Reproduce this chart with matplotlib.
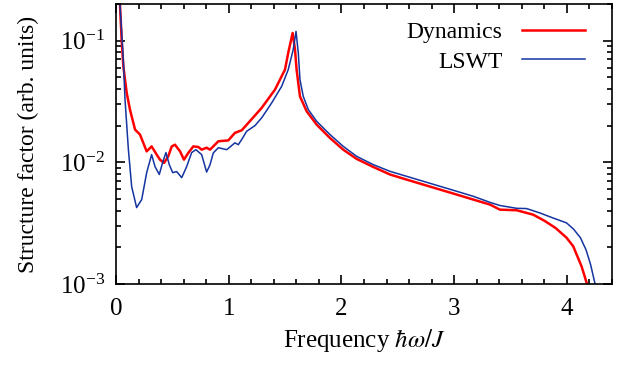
import numpy as np
import matplotlib
matplotlib.use("Agg")
import matplotlib.pyplot as plt
from matplotlib.ticker import MultipleLocator, LogLocator, NullFormatter

plt.rcParams['font.family'] = ['Liberation Serif', 'DejaVu Serif']
plt.rcParams['mathtext.fontset'] = 'stix'
plt.rcParams['font.size'] = 17

# LSWT (smooth), frequency vs log10(S)
lswt_w = [0.02, 0.035, 0.065, 0.08, 0.11, 0.139, 0.183, 0.228, 0.272, 0.316, 0.346,
          0.384, 0.414, 0.443, 0.473, 0.503, 0.538, 0.583, 0.627, 0.671, 0.709,
          0.76, 0.804, 0.834, 0.863, 0.908, 0.982, 1.011, 1.055, 1.085, 1.115,
          1.159, 1.233, 1.292, 1.381, 1.47, 1.528, 1.572, 1.597, 1.617, 1.632,
          1.661, 1.706, 1.78, 1.898, 2.016, 2.135, 2.282, 2.43, 2.578, 2.726,
          2.874, 3.022, 3.169, 3.317, 3.406, 3.554, 3.642, 3.76, 3.87, 3.997,
          4.06, 4.12, 4.17, 4.21, 4.25, 4.27]
lswt_log = [-0.4, -0.7, -1.156, -1.485, -1.896, -2.2, -2.372, -2.306, -2.085, -1.937, -2.035,
            -2.10, -2.0, -1.92, -2.02, -2.085, -2.076, -2.126, -2.035, -1.92, -1.896,
            -1.937, -2.08, -2.02, -1.923, -1.88, -1.896, -1.874, -1.84, -1.855, -1.813,
            -1.745, -1.698, -1.635, -1.512, -1.375, -1.238, -1.074, -0.924, -1.10, -1.32,
            -1.458, -1.567, -1.663, -1.772, -1.869, -1.951, -2.019, -2.074, -2.115, -2.156,
            -2.197, -2.238, -2.279, -2.329, -2.355, -2.378, -2.38, -2.416, -2.455, -2.498,
            -2.55, -2.62, -2.72, -2.84, -3.0, -3.1]

# spin dynamics (noisy), frequency vs log10(S)
dyn_w = [0.02, 0.035, 0.05, 0.065, 0.095, 0.124, 0.169, 0.213, 0.242, 0.272, 0.316,
         0.361, 0.39, 0.426, 0.464, 0.494, 0.523, 0.568, 0.603, 0.641, 0.686,
         0.73, 0.76, 0.804, 0.834, 0.908, 0.996, 1.055, 1.115, 1.174, 1.292,
         1.41, 1.499, 1.528, 1.567, 1.588, 1.602, 1.632, 1.691, 1.78, 1.898,
         2.016, 2.135, 2.282, 2.43, 2.578, 2.726, 2.874, 3.022, 3.169, 3.317,
         3.406, 3.554, 3.70, 3.80, 3.90, 3.997, 4.056, 4.13, 4.175, 4.19]
dyn_log = [-0.4, -0.7, -0.99, -1.21, -1.43, -1.567, -1.731, -1.772, -1.84, -1.91, -1.869,
           -1.937, -1.978, -2.005, -1.95, -1.87, -1.855, -1.91, -1.978, -1.923, -1.869,
           -1.874, -1.896, -1.88, -1.896, -1.827, -1.82, -1.758, -1.737, -1.676, -1.553,
           -1.403, -1.238, -1.10, -0.937, -1.074, -1.238, -1.458, -1.58, -1.69, -1.80,
           -1.896, -1.972, -2.038, -2.10, -2.142, -2.183, -2.224, -2.265, -2.306, -2.347,
           -2.389, -2.394, -2.43, -2.48, -2.54, -2.62, -2.69, -2.855, -2.99, -3.05]

fig = plt.figure(figsize=(6.36, 3.67), dpi=100)
ax = fig.add_axes([116/636, 1-284/367, 496/636, 280/367])

ax.plot(dyn_w, 10**np.array(dyn_log), color='#ff0000', lw=1.8, label='Dynamics')
ax.plot(lswt_w, 10**np.array(lswt_log), color='#1434a0', lw=1.1, label='LSWT')

ax.set_yscale('log')
ax.set_xlim(0, 4.4)
ax.set_ylim(1e-3, 0.2)
ax.xaxis.set_major_locator(MultipleLocator(1))
ax.xaxis.set_minor_locator(MultipleLocator(0.2))
ax.yaxis.set_major_locator(LogLocator(base=10, numticks=10))
ax.yaxis.set_minor_locator(LogLocator(base=10, subs=np.arange(2, 10), numticks=10))
ax.yaxis.set_minor_formatter(NullFormatter())
ax.tick_params(which='both', direction='in', top=True, right=True, width=1.2, labelsize=18)
ax.tick_params(which='major', length=6.5)
ax.tick_params(axis='x', which='major', pad=10)
ax.tick_params(axis='y', which='major', pad=8)
ax.tick_params(which='minor', length=3.5)
for s in ax.spines.values():
    s.set_linewidth(1.2)

ax.set_xlabel(r'Frequency $\hbar\omega/J$', labelpad=5, fontsize=18)
ax.set_ylabel('Structure factor (arb. units)', labelpad=15)

ax.legend(loc='upper right', bbox_to_anchor=(0.989, 1.012), frameon=False, markerfirst=False,
          handlelength=2.7, handletextpad=0.8, labelspacing=0.33)

fig.savefig('out.png', dpi=100)
